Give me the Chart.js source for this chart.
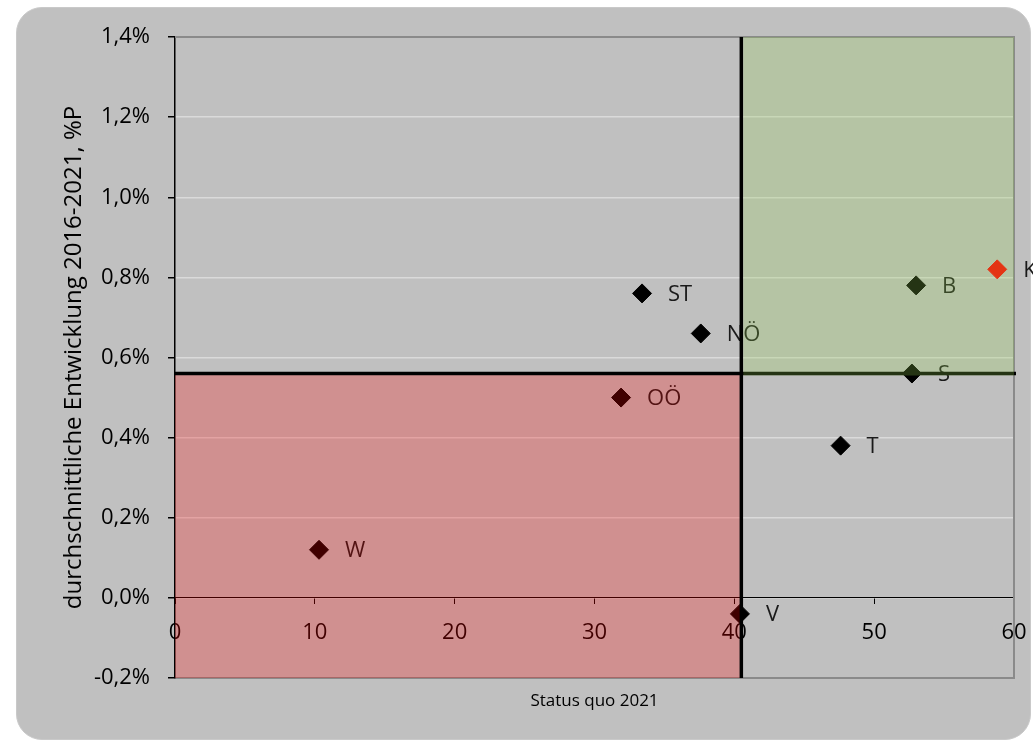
<!DOCTYPE html>
<html>
<head>
<meta charset="utf-8">
<script src="https://cdn.jsdelivr.net/npm/chart.js@4.4.1/dist/chart.umd.min.js"></script>
<style>
  html, body { margin: 0; padding: 0; background: #fff; }
  #frame { position: absolute; left: 16px; top: 7px; width: 1015px; height: 733px; background: #c0c0c0;
           border: 1px solid #c9c9c9; border-radius: 26px; box-sizing: border-box; }
  #chart { position: absolute; left: 0; top: 0; }
</style>
</head>
<body>
<div id="frame"></div>
<canvas id="chart" width="1033" height="742"></canvas>
<script>
// Bundesländer, Status quo 2021 vs. durchschnittliche Entwicklung 2016-2021 (%P)
const regions   = ['ST', 'NÖ', 'OÖ', 'W', 'V', 'B', 'K', 'S', 'T'];
const statusQuo = [33.4, 37.6, 31.9, 10.3, 40.4, 53.0, 58.8, 52.7, 47.6];
const growth    = [0.76, 0.66, 0.50, 0.12, -0.04, 0.78, 0.82, 0.56, 0.38];

const xTickValues = [0, 10, 20, 30, 40, 50, 60];
const yTickValues = [-0.2, 0, 0.2, 0.4, 0.6, 0.8, 1.0, 1.2, 1.4];

// quadrant split (averages)
const xSplit = 40.5;
const ySplit = 0.56;
const highlight = 'K';

const FONT = '"Open Sans", "Noto Sans", sans-serif';
const fmtPct = v => v.toFixed(1).replace('.', ',') + '%';

const quadrants = {
  id: 'quadrants',
  afterDatasetsDraw(chart) {
    const { ctx, chartArea: a, scales: { x, y } } = chart;
    const px = x.getPixelForValue(xSplit);
    const py = y.getPixelForValue(ySplit);
    const meta = chart.getDatasetMeta(0);
    ctx.save();

    // point labels
    ctx.font = '22px ' + FONT;
    ctx.fillStyle = '#1a1a1a';
    ctx.textAlign = 'left';
    ctx.textBaseline = 'middle';
    meta.data.forEach((pt, i) => ctx.fillText(regions[i], pt.x + 26, pt.y + 1));

    // plot frame top / right
    ctx.strokeStyle = '#8a8a8a';
    ctx.lineWidth = 2;
    ctx.beginPath();
    ctx.moveTo(a.left, a.top);
    ctx.lineTo(a.right, a.top);
    ctx.lineTo(a.right, a.bottom);
    ctx.stroke();

    // lower-left quadrant
    ctx.fillStyle = 'rgba(255,0,0,0.25)';
    ctx.fillRect(a.left, py, px - a.left, a.bottom - py);

    // split lines
    ctx.strokeStyle = '#000';
    ctx.lineWidth = 3.5;
    ctx.beginPath();
    ctx.moveTo(a.left, py);
    ctx.lineTo(a.right + 2, py);
    ctx.moveTo(px, a.top);
    ctx.lineTo(px, a.bottom);
    ctx.stroke();

    // upper-right quadrant
    ctx.fillStyle = 'rgba(146,208,80,0.25)';
    ctx.fillRect(px + 2, a.top, a.right - px - 2, py + 2 - a.top);

    ctx.restore();
  }
};

new Chart(document.getElementById('chart'), {
  type: 'scatter',
  data: {
    datasets: [{
      data: statusQuo.map((v, i) => ({ x: v, y: growth[i] })),
      pointStyle: 'rectRot',
      pointRadius: 9.5,
      pointBorderWidth: 1,
      pointBackgroundColor: c => regions[c.dataIndex] === highlight ? '#ff0000' : '#000',
      pointBorderColor: c => regions[c.dataIndex] === highlight ? '#ff0000' : '#000'
    }]
  },
  options: {
    responsive: false,
    animation: false,
    events: [],
    layout: { padding: { top: 37, right: 19, left: 0, bottom: 0 } },
    plugins: { legend: { display: false }, tooltip: { enabled: false } },
    scales: {
      x: {
        type: 'linear', position: 'bottom', min: 0, max: 60,
        afterFit: s => { s.height = 64; s.paddingLeft = 0; s.paddingRight = 0; },
        ticks: { display: false },
        grid: { display: false },
        border: { display: true, color: '#8a8a8a', width: 2 },
        title: { display: true, text: 'Status quo 2021', color: '#000',
                 font: { family: FONT, size: 17 }, padding: { top: 0, bottom: 31 } }
      },
      x2: {
        type: 'linear', axis: 'x', position: { y: 0 }, min: 0, max: 60,
        afterBuildTicks: s => { s.ticks = xTickValues.map(v => ({ value: v })); },
        afterFit: s => { s.paddingLeft = 0; s.paddingRight = 0; },
        ticks: { color: '#000', padding: 16, font: { family: FONT, size: 22 }, maxRotation: 0 },
        grid: { display: true, drawOnChartArea: false, drawTicks: true, tickLength: 6, tickColor: '#000' },
        border: { display: true, color: '#000', width: 1 }
      },
      y: {
        type: 'linear', position: 'left', min: -0.2, max: 1.4,
        afterBuildTicks: s => { s.ticks = yTickValues.map(v => ({ value: v })); },
        afterFit: s => { s.width = 175; },
        ticks: { color: '#000', padding: 18, font: { family: FONT, size: 22 }, callback: v => fmtPct(v) },
        grid: { color: '#dadada', lineWidth: 1.5, tickColor: '#000', tickLength: 7 },
        border: { display: true, color: '#000', width: 1.5 },
        title: { display: true, text: 'durchschnittliche Entwicklung 2016-2021, %P', color: '#000',
                 font: { family: FONT, size: 24 }, padding: { top: 60, bottom: 0 } }
      }
    }
  },
  plugins: [quadrants]
});
</script>
</body>
</html>
